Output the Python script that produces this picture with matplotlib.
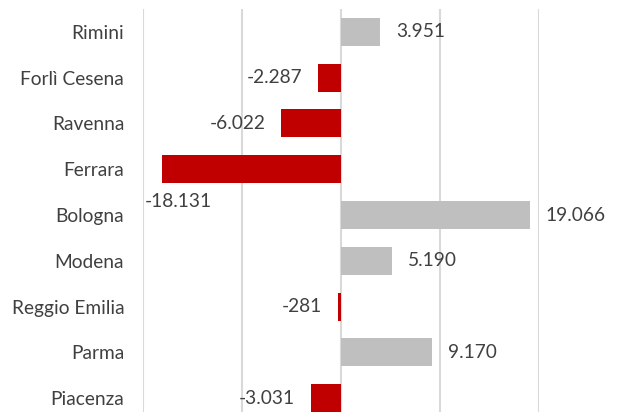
import matplotlib
matplotlib.use("Agg")
import matplotlib.pyplot as plt

# province balance values (top to bottom as shown)
provinces = ["Rimini", "Forlì Cesena", "Ravenna", "Ferrara", "Bologna",
             "Modena", "Reggio Emilia", "Parma", "Piacenza"]
values = [3951, -2287, -6022, -18131, 19066, 5190, -281, 9170, -3031]

POS_COLOR = "#BFBFBF"
NEG_COLOR = "#C00000"
TEXT_COLOR = "#404040"
FS = 13.8

plt.rcParams['font.family'] = ['Lato', 'DejaVu Sans']


def fmt(v):
    # Italian thousands separator
    return "{:,}".format(v).replace(",", ".")


fig = plt.figure(figsize=(6.23, 4.12), dpi=100)
ax = fig.add_axes([143 / 623, 1 - 421 / 412, 396 / 623, 412 / 412])

n = len(provinces)
ypos = list(range(n))
colors = [POS_COLOR if v >= 0 else NEG_COLOR for v in values]
ax.barh(ypos, values, height=0.61, color=colors, zorder=2)

ax.set_xlim(-20000, 20000)
ax.set_ylim(n - 0.5, -0.5)
ax.set_xticks([-20000, -10000, 0, 10000, 20000])
ax.xaxis.grid(True, color="#D9D9D9", linewidth=1.5, zorder=0)
ax.tick_params(axis="x", length=0, labelbottom=False)
ax.tick_params(axis="y", length=0, pad=13.5)
ax.set_yticks(ypos)
ax.set_yticklabels(provinces, fontsize=FS, color=TEXT_COLOR)
for s in ax.spines.values():
    s.set_visible(False)

for y, v in zip(ypos, values):
    if v >= 0:
        ax.annotate(fmt(v), (v, y), xytext=(11.5, 0), textcoords="offset points",
                    ha="left", va="center", fontsize=FS, color=TEXT_COLOR,
                    annotation_clip=False)
    elif v < -15000:
        # no room on the left: label goes under the bar
        ax.annotate(fmt(v), (-20000, y + 0.3), xytext=(1, -7.5), textcoords="offset points",
                    ha="left", va="top", fontsize=FS, color=TEXT_COLOR,
                    annotation_clip=False)
    else:
        ax.annotate(fmt(v), (v, y), xytext=(-11.5, 0), textcoords="offset points",
                    ha="right", va="center", fontsize=FS, color=TEXT_COLOR,
                    annotation_clip=False)

fig.savefig("out.png", dpi=100)
